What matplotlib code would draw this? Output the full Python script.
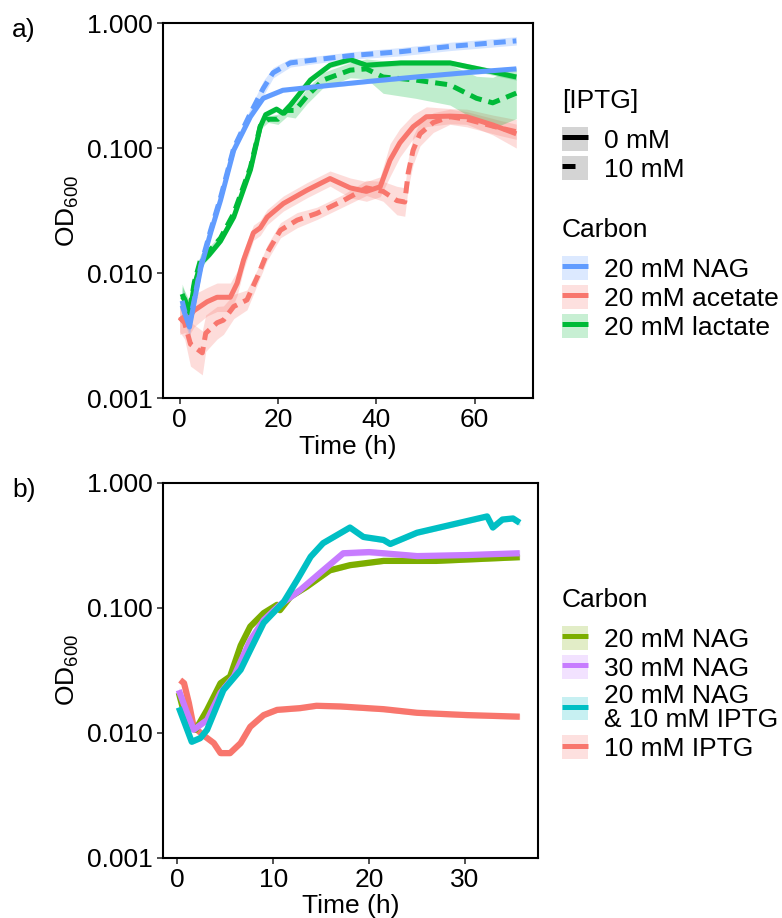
import matplotlib
matplotlib.use('Agg')
import matplotlib.pyplot as plt
import numpy as np
from matplotlib.lines import Line2D
from matplotlib.patches import Patch
from matplotlib.legend_handler import HandlerTuple

plt.rcParams['font.family'] = ['Liberation Sans', 'DejaVu Sans']
plt.rcParams['mathtext.default'] = 'regular'

# ---- panel a: carbon source x IPTG ----
nag0_t = [0.5, 1, 2, 3, 4.3, 6.3, 8.3, 11, 14.4, 17, 21, 28, 38, 48, 58, 68.5]
nag0_y = [0.0055, 0.0048, 0.0037, 0.006, 0.011, 0.021, 0.038, 0.096, 0.178, 0.25, 0.29, 0.31, 0.34, 0.37, 0.40, 0.43]
nag0_s = [0.25, 0.2, 0.2, 0.1, 0.08, 0.08, 0.06, 0.05, 0.05, 0.04, 0.04, 0.04, 0.04, 0.04, 0.04, 0.05]

nag10_t = [0.5, 1, 2, 3, 4.3, 6.3, 8.3, 11, 14.4, 17, 19, 22.5, 28, 35, 45, 55, 68.5]
nag10_y = [0.006, 0.005, 0.004, 0.0062, 0.0115, 0.022, 0.04, 0.1, 0.19, 0.3, 0.40, 0.48, 0.51, 0.55, 0.59, 0.65, 0.72]
nag10_s = [0.25, 0.2, 0.2, 0.1, 0.08, 0.08, 0.06, 0.06, 0.1, 0.15, 0.1, 0.08, 0.07, 0.07, 0.08, 0.08, 0.08]

lac0_t = [0.5, 1, 2, 3, 4.3, 6, 8.3, 11, 14.4, 16.4, 17.5, 19.7, 21, 22.5, 24, 26.6, 30.6, 34.7, 38, 45, 55, 62, 68.5]
lac0_y = [0.0065, 0.0062, 0.0048, 0.008, 0.012, 0.014, 0.018, 0.028, 0.067, 0.148, 0.185, 0.205, 0.19, 0.22, 0.26, 0.35, 0.46, 0.51, 0.46, 0.48, 0.48, 0.42, 0.37]
lac0_s = [0.2, 0.15, 0.12, 0.1, 0.08, 0.06, 0.05, 0.05, 0.05, 0.05, 0.05, 0.05, 0.05, 0.05, 0.05, 0.05, 0.05, 0.05, 0.05, 0.05, 0.05, 0.06, 0.06]

lac10_t = [0.5, 1, 2, 3, 4.3, 6, 8.3, 11, 14.4, 16.4, 18, 20, 21.8, 23.5, 25.9, 29.2, 34.7, 38, 41.4, 48, 55, 60.4, 63.7, 68.5]
lac10_y = [0.0068, 0.006, 0.005, 0.0085, 0.013, 0.015, 0.019, 0.03, 0.07, 0.15, 0.17, 0.17, 0.2, 0.2, 0.26, 0.35, 0.42, 0.43, 0.37, 0.35, 0.32, 0.25, 0.23, 0.275]
lac10_s = [0.2, 0.2, 0.2, 0.15, 0.1, 0.08, 0.07, 0.06, 0.06, 0.06, 0.06, 0.1, 0.12, 0.15, 0.15, 0.15, 0.15, 0.2, 0.35, 0.4, 0.45, 0.5, 0.6, 0.6]

ace0_t = [0, 1, 2, 2.9, 5.6, 7.6, 10.3, 11.7, 13, 15, 16.4, 17.8, 21.1, 25.9, 30.6, 34.7, 38, 40.8, 42.8, 44.8, 47.5, 50.2, 55, 58.4, 63.7, 68.5]
ace0_y = [0.0042, 0.0045, 0.0045, 0.005, 0.0059, 0.0064, 0.0064, 0.0083, 0.0127, 0.021, 0.023, 0.028, 0.036, 0.046, 0.057, 0.048, 0.045, 0.049, 0.08, 0.11, 0.148, 0.178, 0.18, 0.178, 0.153, 0.13]
ace0_s = [0.3, 0.35, 0.4, 0.35, 0.3, 0.3, 0.3, 0.25, 0.2, 0.15, 0.15, 0.15, 0.15, 0.15, 0.15, 0.2, 0.2, 0.2, 0.35, 0.3, 0.25, 0.2, 0.15, 0.15, 0.2, 0.3]

ace10_t = [0, 1, 2.2, 4.6, 5.3, 7.6, 8.9, 11, 13.7, 15.8, 17.8, 20.5, 23.9, 27.9, 33.3, 38, 41.4, 44.2, 45.8, 46.5, 47.5, 48.9, 51.6, 55, 58.4, 65.1, 68.5]
ace10_y = [0.0044, 0.004, 0.0027, 0.0023, 0.0033, 0.004, 0.0042, 0.0054, 0.0061, 0.0093, 0.0145, 0.022, 0.0265, 0.030, 0.038, 0.048, 0.045, 0.038, 0.037, 0.063, 0.096, 0.13, 0.16, 0.178, 0.17, 0.145, 0.135]
ace10_s = [0.3, 0.35, 0.5, 0.5, 0.4, 0.35, 0.3, 0.25, 0.2, 0.15, 0.15, 0.15, 0.15, 0.12, 0.12, 0.15, 0.2, 0.3, 0.3, 0.3, 0.3, 0.25, 0.2, 0.15, 0.15, 0.15, 0.15]

# ---- panel b: NAG / IPTG combinations ----
b_nag20_t = [0.15, 0.7, 1.5, 1.9, 3.1, 4.5, 5.5, 6.6, 7.6, 9, 10.4, 10.7, 11.8, 13.5, 15.9, 18, 21.5, 27, 35.7]
b_nag20_y = [0.021, 0.0145, 0.011, 0.0106, 0.0153, 0.025, 0.0283, 0.05, 0.071, 0.091, 0.106, 0.096, 0.123, 0.148, 0.2, 0.22, 0.238, 0.238, 0.255]

b_nag30_t = [0.15, 1.0, 1.7, 3.1, 4.5, 5.9, 7.6, 9, 10.7, 12.8, 15.2, 17.3, 20, 25, 30.2, 35.7]
b_nag30_y = [0.022, 0.0145, 0.0106, 0.0127, 0.021, 0.0283, 0.055, 0.08, 0.106, 0.139, 0.2, 0.274, 0.28, 0.26, 0.265, 0.274]

b_both_t = [0.15, 1.5, 2.4, 3.1, 4.8, 6.6, 7.6, 9, 11.1, 12.5, 13.9, 15.2, 18, 19.4, 21.5, 22.2, 25, 28.4, 32.3, 32.9, 33.9, 35, 35.7]
b_both_y = [0.016, 0.0085, 0.0091, 0.0106, 0.022, 0.032, 0.046, 0.076, 0.112, 0.168, 0.257, 0.33, 0.44, 0.37, 0.35, 0.325, 0.40, 0.46, 0.54, 0.44, 0.51, 0.52, 0.48]

b_iptg_t = [0.3, 0.7, 1.2, 1.7, 2.7, 3.8, 4.5, 5.5, 6.6, 7.6, 9, 10.4, 12.8, 14.5, 17, 21.5, 25, 30.2, 35.7]
b_iptg_y = [0.0265, 0.025, 0.0174, 0.0112, 0.0096, 0.0083, 0.0069, 0.0069, 0.0083, 0.0112, 0.0139, 0.0153, 0.0158, 0.0165, 0.0163, 0.0155, 0.0145, 0.0139, 0.0135]

yticks = [0.001, 0.01, 0.1, 1]
ytick_labels = ['0.001', '0.010', '0.100', '1.000']

BLUE, RED, GREEN = '#619CFF', '#F8766D', '#00BA38'
OLIVE, PURPLE, CYAN = '#7CAE00', '#C77CFF', '#00BFC4'
FS = 19
DASH = (2.4, 1.4)


def style_axes(ax, xticks, xlim):
    ax.set_yscale('log')
    ax.set_ylim(0.001, 1)
    ax.set_yticks(yticks)
    ax.set_yticklabels(ytick_labels)
    ax.minorticks_off()
    ax.set_xlim(*xlim)
    ax.set_xticks(xticks)
    ax.tick_params(labelsize=19, length=4, width=1.2, color='#333333', pad=3)
    for sp in ax.spines.values():
        sp.set_linewidth(1.5)
    ax.set_xlabel('Time (h)', fontsize=FS, labelpad=2)
    ax.set_ylabel('OD$_{600}$', fontsize=FS, labelpad=5)


def draw(ax, t, y, s, color, lw, dashed=False, alpha=0.25):
    t = np.array(t); y = np.array(y); s = np.array(s)
    ax.fill_between(t, y / (1 + s), y * (1 + s), color=color, alpha=alpha, lw=0)
    ln, = ax.plot(t, y, color=color, lw=lw, solid_capstyle='butt')
    if dashed:
        ln.set_dashes(DASH)


fig = plt.figure(figsize=(7.82, 9.18), dpi=100)
ax1 = fig.add_axes([0.2084, 0.5664, 0.4732, 0.4085])
ax2 = fig.add_axes([0.2084, 0.0654, 0.4795, 0.4085])

LW_A = 3.6
draw(ax1, ace0_t, ace0_y, ace0_s, RED, LW_A)
draw(ax1, ace10_t, ace10_y, ace10_s, RED, LW_A, dashed=True)
draw(ax1, lac0_t, lac0_y, lac0_s, GREEN, LW_A)
draw(ax1, lac10_t, lac10_y, lac10_s, GREEN, LW_A, dashed=True)
draw(ax1, nag0_t, nag0_y, nag0_s, BLUE, LW_A)
draw(ax1, nag10_t, nag10_y, nag10_s, BLUE, LW_A, dashed=True)
style_axes(ax1, [0, 20, 40, 60], (-3.4, 71.9))

LW_B = 4.5
draw(ax2, b_iptg_t, b_iptg_y, [0.05] * len(b_iptg_t), RED, LW_B)
draw(ax2, b_nag20_t, b_nag20_y, [0.05] * len(b_nag20_t), OLIVE, LW_B)
draw(ax2, b_nag30_t, b_nag30_y, [0.06] * len(b_nag30_t), PURPLE, LW_B)
draw(ax2, b_both_t, b_both_y, [0.05] * len(b_both_t), CYAN, LW_B)
style_axes(ax2, [0, 10, 20, 30], (-1.5, 37.6))


def key(color, fill, lw, dashed=False):
    ln = Line2D([], [], color=color, lw=lw, solid_capstyle='butt')
    if dashed:
        ln.set_dashes((2.6, 3.0))
    return (Patch(facecolor=fill, edgecolor='none'), ln)


def make_legend(ax, handles, labels, title, anchor):
    leg = ax.legend(handles, labels, title=title, loc='upper left',
                    bbox_to_anchor=anchor, bbox_transform=fig.transFigure,
                    frameon=False, fontsize=FS, title_fontsize=FS,
                    handler_map={tuple: HandlerTuple(ndivide=1, pad=0)},
                    handlelength=1.0, handleheight=1.0, handletextpad=0.6,
                    labelspacing=0.12, borderpad=0, borderaxespad=0,
                    alignment='left')
    leg._legend_box.sep = 10
    for txt in leg.get_texts():
        txt.set_linespacing(1.0)
    return leg


leg_iptg = make_legend(ax1, [key('black', '#d4d4d4', 3.6), key('black', '#d4d4d4', 3.6, True)],
                       ['0 mM', '10 mM'], '[IPTG]', (562 / 782, 1 - 89 / 918))
ax1.add_artist(leg_iptg)
make_legend(ax1, [key(BLUE, (0.38, 0.61, 1, 0.22), 3.6),
                  key(RED, (0.97, 0.46, 0.43, 0.22), 3.6),
                  key(GREEN, (0, 0.73, 0.22, 0.22), 3.6)],
            ['20 mM NAG', '20 mM acetate', '20 mM lactate'], 'Carbon', (562 / 782, 1 - 218 / 918))

make_legend(ax2, [key(OLIVE, (0.49, 0.68, 0, 0.22), 3.6),
                  key(PURPLE, (0.78, 0.49, 1, 0.22), 3.6),
                  key(CYAN, (0, 0.75, 0.77, 0.22), 3.6),
                  key(RED, (0.97, 0.46, 0.43, 0.22), 3.6)],
            ['20 mM NAG', '30 mM NAG', '20 mM NAG\n& 10 mM IPTG', '10 mM IPTG'], 'Carbon',
            (562 / 782, 1 - 588 / 918))

fig.text(12 / 782, 1 - 30 / 918, 'a)', fontsize=FS, va='center', ha='left')
fig.text(12 / 782, 1 - 490 / 918, 'b)', fontsize=FS, va='center', ha='left')

fig.savefig('out.png', dpi=100)
